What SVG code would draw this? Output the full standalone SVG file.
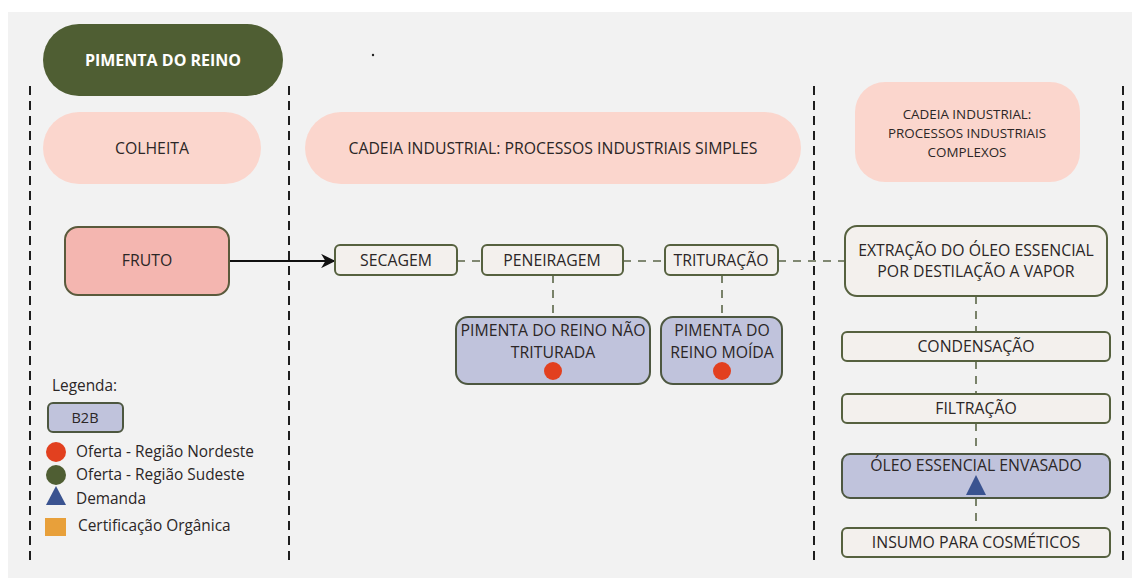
<svg xmlns="http://www.w3.org/2000/svg" width="1132" height="579" viewBox="0 0 1132 579">
  <style>
    text { font-family: "Open Sans", "Liberation Sans", sans-serif; fill: #2b2626; text-anchor: middle; }
    .lbl { font-size: 15.8px; }
    .lane { stroke: #1e1e1e; stroke-width: 2; stroke-dasharray: 9 6; fill: none; }
    .dash { stroke: #5b6648; stroke-width: 1.6; stroke-dasharray: 8 7; fill: none; }
    .pill { fill: #fbd6cd; }
    .step { fill: #f3f0ed; stroke: #56613f; stroke-width: 2; }
    .b2b { fill: #c0c3dc; stroke: #4d5740; stroke-width: 2; }
    .red { fill: #e2401f; }
    .tri { fill: #3a5390; }
    .leg { font-size: 15.4px; text-anchor: start; }
  </style>
  <defs>
    <marker id="arrow" viewBox="0 0 10 10" refX="9" refY="5" markerWidth="6.5" markerHeight="6.5" orient="auto">
      <path d="M0,0 L10,5 L0,10 L3,5 z" fill="#111"/>
    </marker>
  </defs>

  <rect x="0" y="0" width="1132" height="579" fill="#ffffff"/>
  <rect x="8" y="12" width="1124" height="566" fill="#f2f2f2"/>
  <circle cx="373" cy="55" r="1.2" fill="#222"/>

  <!-- lane separators -->
  <g id="lanes">
    <line class="lane" x1="30" y1="86" x2="30" y2="566"/>
    <line class="lane" x1="289" y1="86" x2="289" y2="566"/>
    <line class="lane" x1="814" y1="86" x2="814" y2="566"/>
    <line class="lane" x1="1123" y1="86" x2="1123" y2="566"/>
  </g>

  <!-- connectors -->
  <g id="connectors">
    <line x1="229" y1="261" x2="334" y2="261" stroke="#111" stroke-width="2.2" marker-end="url(#arrow)"/>
    <line class="dash" x1="457" y1="261" x2="482" y2="261"/>
    <line class="dash" x1="623" y1="261" x2="665" y2="261"/>
    <line class="dash" x1="778" y1="261" x2="845" y2="261"/>
    <line class="dash" x1="553" y1="275" x2="553" y2="317"/>
    <line class="dash" x1="722" y1="275" x2="722" y2="317"/>
    <line class="dash" x1="976" y1="296" x2="976" y2="332"/>
    <line class="dash" x1="976" y1="361" x2="976" y2="394"/>
    <line class="dash" x1="976" y1="423" x2="976" y2="454"/>
    <line class="dash" x1="976" y1="498" x2="976" y2="528"/>
  </g>

  <g id="title">
    <rect x="43" y="24" width="240" height="72" rx="36" fill="#4f5e33"/>
    <text x="163" y="66" style="font-size:16px;font-weight:700;fill:#ffffff">PIMENTA DO REINO</text>
  </g>

  <g id="colheita">
    <rect class="pill" x="43" y="112" width="218" height="72" rx="36"/>
    <text class="lbl" x="152" y="154">COLHEITA</text>
  </g>

  <g id="cadeia-simples">
    <rect class="pill" x="305" y="112" width="496" height="72" rx="36"/>
    <text class="lbl" x="553" y="154">CADEIA INDUSTRIAL: PROCESSOS INDUSTRIAIS SIMPLES</text>
  </g>

  <g id="cadeia-complexos">
    <rect class="pill" x="855" y="82" width="225" height="100" rx="30"/>
    <text x="967" y="119" style="font-size:13.4px">CADEIA INDUSTRIAL:</text>
    <text x="967" y="138" style="font-size:13.4px">PROCESSOS INDUSTRIAIS</text>
    <text x="967" y="157" style="font-size:13.4px">COMPLEXOS</text>
  </g>

  <g id="fruto">
    <rect x="65" y="227" width="164" height="68" rx="13" fill="#f4b6b0" stroke="#5a5a3c" stroke-width="2"/>
    <text class="lbl" x="147" y="266">FRUTO</text>
  </g>

  <g id="secagem">
    <rect class="step" x="335" y="245" width="122" height="30" rx="5"/>
    <text class="lbl" x="396" y="266">SECAGEM</text>
  </g>

  <g id="peneiragem">
    <rect class="step" x="482" y="245" width="141" height="30" rx="5"/>
    <text class="lbl" x="552" y="266">PENEIRAGEM</text>
  </g>

  <g id="trituracao">
    <rect class="step" x="665" y="245" width="113" height="30" rx="5"/>
    <text class="lbl" x="721" y="266">TRITURAÇÃO</text>
  </g>

  <g id="extracao">
    <rect class="step" x="845" y="226" width="262" height="70" rx="12"/>
    <text class="lbl" x="976" y="256">EXTRAÇÃO DO ÓLEO ESSENCIAL</text>
    <text class="lbl" x="976" y="277">POR DESTILAÇÃO A VAPOR</text>
  </g>

  <g id="nao-triturada">
    <rect class="b2b" x="456" y="317" width="194" height="67" rx="12"/>
    <text class="lbl" x="553" y="336">PIMENTA DO REINO NÃO</text>
    <text class="lbl" x="553" y="358">TRITURADA</text>
    <circle class="red" cx="553" cy="371" r="9"/>
  </g>

  <g id="moida">
    <rect class="b2b" x="661" y="317" width="121" height="67" rx="12"/>
    <text class="lbl" x="722" y="336">PIMENTA DO</text>
    <text class="lbl" x="722" y="358">REINO MOÍDA</text>
    <circle class="red" cx="722" cy="371" r="9"/>
  </g>

  <g id="condensacao">
    <rect class="step" x="842" y="332" width="268" height="29" rx="5"/>
    <text class="lbl" x="976" y="352">CONDENSAÇÃO</text>
  </g>

  <g id="filtracao">
    <rect class="step" x="842" y="394" width="268" height="29" rx="5"/>
    <text class="lbl" x="976" y="414">FILTRAÇÃO</text>
  </g>

  <g id="oleo-envasado">
    <rect class="b2b" x="842" y="454" width="268" height="44" rx="8"/>
    <text class="lbl" x="976" y="471">ÓLEO ESSENCIAL ENVASADO</text>
    <polygon class="tri" points="976,475 966,495 986,495"/>
  </g>

  <g id="insumo">
    <rect class="step" x="842" y="528" width="268" height="29" rx="5"/>
    <text class="lbl" x="976" y="548">INSUMO PARA COSMÉTICOS</text>
  </g>

  <g id="legenda">
    <text class="leg" x="52" y="391">Legenda:</text>
    <rect class="b2b" x="48" y="403" width="75" height="29" rx="5"/>
    <text x="85" y="423" style="font-size:14.5px">B2B</text>
    <circle class="red" cx="56" cy="452" r="10"/>
    <text class="leg" x="76" y="457">Oferta - Região Nordeste</text>
    <circle cx="56" cy="475" r="10" fill="#4f5e33"/>
    <text class="leg" x="76" y="480">Oferta - Região Sudeste</text>
    <polygon class="tri" points="56,486 46,505 66,505"/>
    <text class="leg" x="76" y="504">Demanda</text>
    <rect x="45" y="518" width="21" height="18" fill="#e8a03a"/>
    <text class="leg" x="78" y="531">Certificação Orgânica</text>
  </g>
</svg>
